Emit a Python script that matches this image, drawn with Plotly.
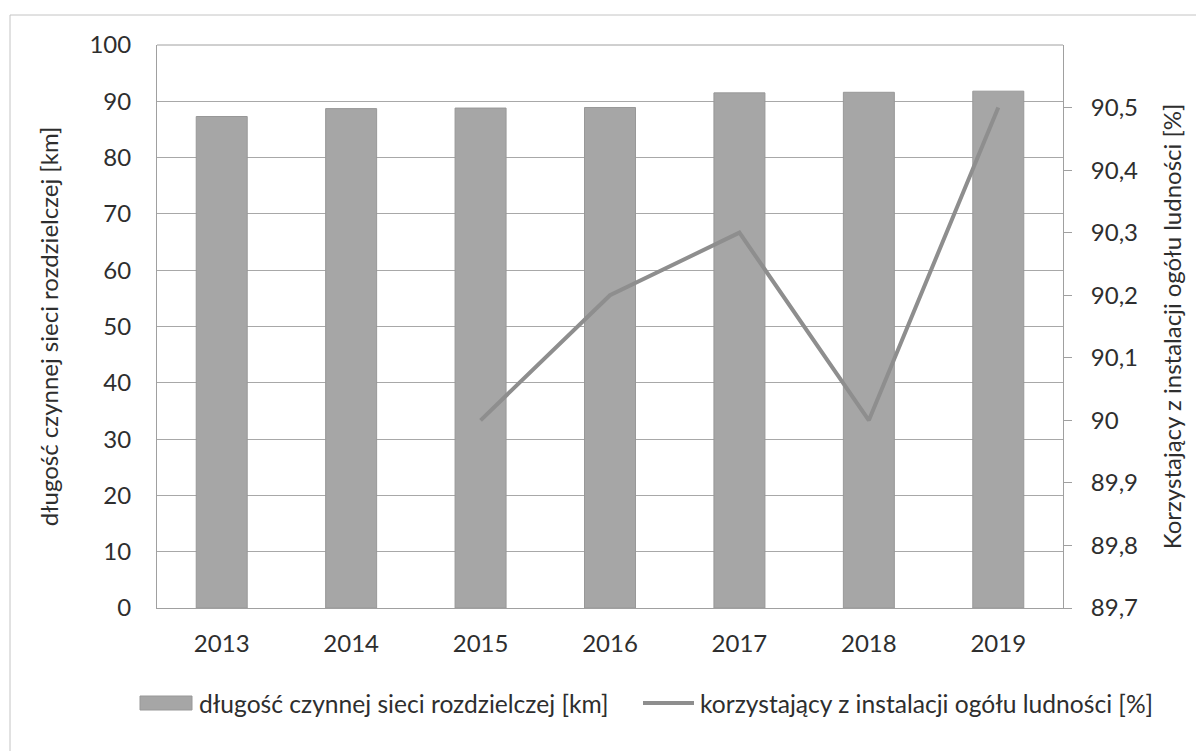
import plotly.graph_objects as go

years = ["2013", "2014", "2015", "2016", "2017", "2018", "2019"]
network_km = [87.3, 88.7, 88.8, 88.9, 91.5, 91.6, 91.8]
users_pct = [None, None, 90.0, 90.2, 90.3, 90.0, 90.5]

left_ticks = [0, 10, 20, 30, 40, 50, 60, 70, 80, 90, 100]
right_tickvals = [89.7, 89.8, 89.9, 90.0, 90.1, 90.2, 90.3, 90.4, 90.5]
right_ticktext = ["89,7", "89,8", "89,9", "90", "90,1", "90,2", "90,3", "90,4", "90,5"]

name_bar = "długość czynnej sieci rozdzielczej [km]"
name_line = "korzystający z instalacji ogółu ludności [%]"
title_left = "długość czynnej sieci rozdzielczej [km]"
title_right = "Korzystający z instalacji ogółu ludności [%]"

FONT = "Lato, 'Open Sans', sans-serif"
TXT = "#2e2e2e"
FS = 24
BAR_COLOR = "#a6a6a6"
LINE_COLOR = "#8e8e8e"

fig = go.Figure()
fig.add_trace(go.Bar(
    x=years, y=network_km, name=name_bar,
    marker=dict(color=BAR_COLOR, line=dict(color="#989898", width=1)),
))
fig.add_trace(go.Scatter(
    x=years, y=users_pct, name=name_line, yaxis="y2",
    mode="lines", line=dict(color=LINE_COLOR, width=4),
    connectgaps=False,
))

# page body has an 8px margin in the browser
OFF = 8
W, H = 1204, 751
# desired plot area in screen pixels
PX0, PX1, PY0, PY1 = 157, 1063, 45, 608
L = PX0 - OFF
T = PY0 - OFF
R = W + OFF - PX1
B = H + OFF - PY1
pw, ph = PX1 - PX0, PY1 - PY0

def px_x(x):
    return (x - PX0) / pw

def px_y(y):
    return (PY1 - y) / ph

LEG_Y = 703

fig.update_layout(
    width=W, height=H,
    margin=dict(l=L, r=R, t=T, b=B),
    paper_bgcolor="white", plot_bgcolor="white",
    font=dict(family=FONT, size=FS, color=TXT),
    separators=", ",
    bargap=0.606,
    showlegend=False,
    xaxis=dict(
        type="category", showgrid=False, showline=True,
        linecolor="#a0a0a0", linewidth=1,
        ticks="", ticklabelstandoff=14,
        tickfont=dict(size=FS, color=TXT),
    ),
    yaxis=dict(
        range=[0, 100], tickvals=left_ticks,
        showgrid=True, gridcolor="#a8a8a8", gridwidth=1,
        showline=True, linecolor="#a0a0a0", linewidth=1,
        zeroline=False, ticks="", ticklabelstandoff=20,
        tickfont=dict(size=FS, color=TXT),
        title=dict(text=title_left, font=dict(size=FS, color=TXT), standoff=24),
    ),
    yaxis2=dict(
        overlaying="y", side="right", range=[89.7, 90.6],
        tickvals=right_tickvals, ticktext=right_ticktext,
        showgrid=False, zeroline=False,
        showline=True, linecolor="#a0a0a0", linewidth=1,
        ticks="outside", ticklen=8, tickcolor="#a0a0a0",
        ticklabelstandoff=14,
        tickfont=dict(size=FS, color=TXT),
        title=dict(text=title_right, font=dict(size=FS, color=TXT), standoff=27),
    ),
    shapes=[
        dict(type="rect", xref="paper", yref="paper",
             x0=px_x(10), x1=px_x(1240), y0=px_y(790), y1=px_y(15),
             line=dict(color="#c4c4c4", width=1), fillcolor="rgba(0,0,0,0)",
             layer="below"),
        dict(type="line", xref="paper", yref="paper",
             x0=0, x1=1, y0=1, y1=1,
             line=dict(color="#a0a0a0", width=1)),
        # legend swatches
        dict(type="rect", xref="paper", yref="paper",
             x0=px_x(140), x1=px_x(192), y0=px_y(LEG_Y + 7), y1=px_y(LEG_Y - 7),
             line=dict(color="#989898", width=1), fillcolor=BAR_COLOR),
        dict(type="line", xref="paper", yref="paper",
             x0=px_x(643), x1=px_x(694), y0=px_y(LEG_Y), y1=px_y(LEG_Y),
             line=dict(color=LINE_COLOR, width=4)),
    ],
    annotations=[
        dict(text=name_bar, xref="paper", yref="paper",
             x=px_x(197), y=px_y(LEG_Y), xanchor="left", yanchor="middle",
             showarrow=False, font=dict(size=24.6, color=TXT)),
        dict(text=name_line, xref="paper", yref="paper",
             x=px_x(698), y=px_y(LEG_Y), xanchor="left", yanchor="middle",
             showarrow=False, font=dict(size=24.6, color=TXT)),
    ],
)

fig.write_html("out.html")
